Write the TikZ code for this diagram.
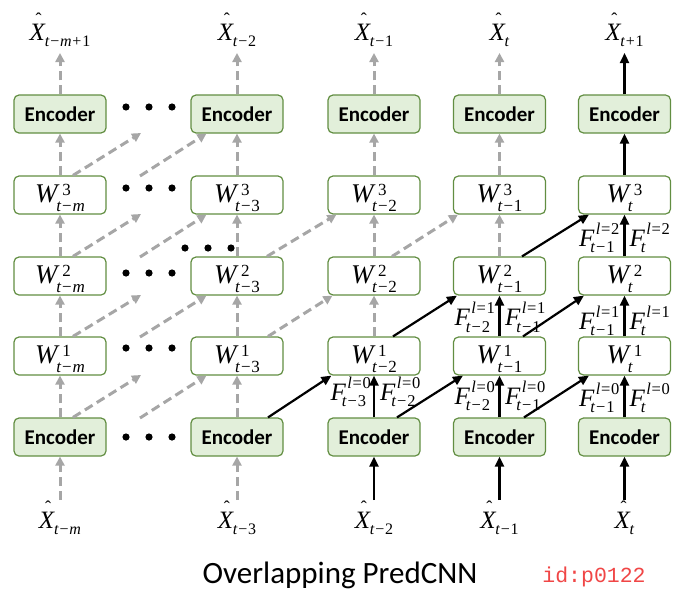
\documentclass[tikz,border=0pt]{standalone}
\usepackage{fontspec}
\setmainfont{Liberation Serif}
\newfontfamily\carl{Carlito}
\newfontfamily\idfont{Liberation Mono}
\usetikzlibrary{arrows.meta,calc}
\definecolor{boxgreen}{RGB}{98,142,66}
\definecolor{encfill}{RGB}{226,239,218}
\definecolor{dgray}{RGB}{166,166,166}
\definecolor{idred}{RGB}{240,70,70}
\newcommand\tv{\textit{t}}
\newcommand\mv{\textit{m}}
\newcommand\mn{\kern0.8pt−\kern0.8pt}
\newcommand\plv{\kern0.8pt+\kern0.8pt}
% #1 size, #2 sup x offset, #3 sup raise, #4 sub lower, #5 sup, #6 sub
\newcommand\scripts[6]{{\fontsize{#1}{#1}\selectfont
  \setbox0=\hbox{\kern#2\relax#5}%
  \setbox2=\hbox{#6}%
  \ifdim\wd0>\wd2 \setbox2=\hbox to\wd0{\unhbox2\hfil}\fi
  \rlap{\raisebox{#3}{\box0}}\raisebox{-#4}{\box2}}}
\newcommand\Wv[2]{\rule{0pt}{24pt}{\fontsize{27}{30}\selectfont\textit{W}}\kern-3.5pt\scripts{17pt}{6pt}{6.5pt}{9pt}{#1}{#2}}
\newcommand\Fv[2]{{\itshape F}\kern-4pt\scripts{16.5pt}{5.5pt}{12pt}{6.5pt}{\textit{l}\kern0.6pt=\kern0.6pt#1}{#2}}
\newcommand\hatX{\setbox4=\hbox{\textit{X}}\rlap{\hbox to\wd4{\hss\kern2pt\raisebox{15pt}{\fontsize{18}{18}\selectfont ˆ}\hss}}\box4}
\newcommand\Xv[1]{\hatX\kern-1pt\scripts{16pt}{0pt}{0pt}{6pt}{}{#1}}
\begin{document}
\begin{tikzpicture}[x=1pt,y=-1pt,
  box/.style={draw=boxgreen, line width=1.2pt, rounded corners=5pt, minimum width=92pt, minimum height=38pt, inner sep=0pt},
  enc/.style={box, fill=encfill, font=\carl\bfseries\fontsize{21}{24}\selectfont},
  wbox/.style={box, fill=white, font=\fontsize{25}{30}\selectfont},
  toplab/.style={font=\fontsize{25}{30}\selectfont, inner sep=1pt, outer ysep=5pt, anchor=south},
  botlab/.style={font=\fontsize{25}{30}\selectfont, inner sep=1pt, anchor=north},
  flab/.style={font=\fontsize{25}{30}\selectfont, inner sep=0pt},
  garr/.style={draw=dgray, line width=3pt, dash pattern=on 9pt off 5pt, -{Triangle[length=9pt,width=9pt]}},
  barr/.style={draw=black, line width=2.2pt, -{Triangle[length=10pt,width=9pt]}},
  dot/.style={fill=black}]
\useasboundingbox (0,0) rectangle (684,602);
% ---- column 1
\node[enc]  (b1) at (60,437) {Encoder};
\node[wbox] (p1) at (60,356) {\Wv{1}{\tv\mn\mv}};
\node[wbox] (q1) at (60,276) {\Wv{2}{\tv\mn\mv}};
\node[wbox] (r1) at (60,195) {\Wv{3}{\tv\mn\mv}};
\node[enc]  (e1) at (60,114) {Encoder};
\node[toplab] (xt1) at (60,53) {\Xv{\tv\mn\mv\plv1}};
\node[botlab] (xb1) at (60,500) {\Xv{\tv\mn\mv}};
% ---- column 2
\node[enc]  (b2) at (237,437) {Encoder};
\node[wbox] (p2) at (237,356) {\Wv{1}{\tv\mn3}};
\node[wbox] (q2) at (237,276) {\Wv{2}{\tv\mn3}};
\node[wbox] (r2) at (237,195) {\Wv{3}{\tv\mn3}};
\node[enc]  (e2) at (237,114) {Encoder};
\node[toplab] (xt2) at (237,53) {\Xv{\tv\mn2}};
\node[botlab] (xb2) at (237,500) {\Xv{\tv\mn3}};
% ---- column 3
\node[enc]  (b3) at (374,437) {Encoder};
\node[wbox] (p3) at (374,356) {\Wv{1}{\tv\mn2}};
\node[wbox] (q3) at (374,276) {\Wv{2}{\tv\mn2}};
\node[wbox] (r3) at (374,195) {\Wv{3}{\tv\mn2}};
\node[enc]  (e3) at (374,114) {Encoder};
\node[toplab] (xt3) at (374,53) {\Xv{\tv\mn1}};
\node[botlab] (xb3) at (374,500) {\Xv{\tv\mn2}};
% ---- column 4
\node[enc]  (b4) at (499.5,437) {Encoder};
\node[wbox] (p4) at (499.5,356) {\Wv{1}{\tv\mn1}};
\node[wbox] (q4) at (499.5,276) {\Wv{2}{\tv\mn1}};
\node[wbox] (r4) at (499.5,195) {\Wv{3}{\tv\mn1}};
\node[enc]  (e4) at (499.5,114) {Encoder};
\node[toplab] (xt4) at (499.5,53) {\Xv{\tv}};
\node[botlab] (xb4) at (499.5,500) {\Xv{\tv\mn1}};
% ---- column 5
\node[enc]  (b5) at (624.5,437) {Encoder};
\node[wbox] (p5) at (624.5,356) {\Wv{1}{\tv}};
\node[wbox] (q5) at (624.5,276) {\Wv{2}{\tv}};
\node[wbox] (r5) at (624.5,195) {\Wv{3}{\tv}};
\node[enc]  (e5) at (624.5,114) {Encoder};
\node[toplab] (xt5) at (624.5,53) {\Xv{\tv\plv1}};
\node[botlab] (xb5) at (624.5,500) {\Xv{\tv}};
% ---- vertical arrows
\foreach \c in {1,2}{
  \draw[garr] (xb\c) -- (b\c);
  \draw[garr] (b\c) -- (p\c);
  \draw[garr] (p\c) -- (q\c);
  \draw[garr] (q\c) -- (r\c);
  \draw[garr] (r\c) -- (e\c);
  \draw[garr] (e\c) -- (xt\c);
}
\draw[barr] (xb3) -- (b3);
\draw[barr] (b3) -- (p3);
\draw[garr] (p3) -- (q3);
\draw[garr] (q3) -- (r3);
\draw[garr] (r3) -- (e3);
\draw[garr] (e3) -- (xt3);
\draw[barr] (xb4) -- (b4);
\draw[barr] (b4) -- (p4);
\draw[barr] (p4) -- (q4);
\draw[garr] (q4) -- (r4);
\draw[garr] (r4) -- (e4);
\draw[garr] (e4) -- (xt4);
\draw[barr] (xb5) -- (b5);
\draw[barr] (b5) -- (p5);
\draw[barr] (p5) -- (q5);
\draw[barr] (q5) -- (r5);
\draw[barr] (r5) -- (e5);
\draw[barr] (e5) -- (xt5);
% ---- gap coordinates (ellipsis between columns 1 and 2)
\coordinate (ga1) at (141,375);
\coordinate (ga2) at (141,295);
\coordinate (ga3) at (141,214);
\coordinate (ga4) at (141,133);
\coordinate (gb0) at (140,418);
\coordinate (gb1) at (140,337);
\coordinate (gb2) at (140,257);
\coordinate (gb3) at (140,176);
% ---- diagonal arrows
\draw[garr] ($(b1.north)+(13,0)$) -- (ga1);
\draw[garr] ($(p1.north)+(13,0)$) -- (ga2);
\draw[garr] ($(q1.north)+(13,0)$) -- (ga3);
\draw[garr] ($(r1.north)+(13,0)$) -- (ga4);
\draw[garr] (gb0) -- ($(p2.south west)+(16,0)$);
\draw[garr] (gb1) -- ($(q2.south west)+(16,0)$);
\draw[garr] (gb2) -- ($(r2.south west)+(16,0)$);
\draw[garr] (gb3) -- ($(e2.south west)+(16,0)$);
\draw[garr] ($(p2.north)+(31,0)$) -- ($(q3.south west)+(5,0)$);
\draw[garr] ($(q2.north)+(30,0)$) -- ($(r3.south west)+(9,0)$);
\draw[garr] ($(q3.north)+(18,0)$) -- ($(r4.south west)+(5,0)$);
\draw[barr] ($(b2.north)+(31,0)$) -- ($(p3.south west)+(4,0)$);
\draw[barr] ($(b3.north)+(23,0)$) -- ($(p4.south west)+(10,0)$);
\draw[barr] ($(p3.north)+(19,0)$) -- ($(q4.south west)+(4,0)$);
\draw[barr] ($(b4.north)+(24.5,0)$) -- ($(p5.south west)+(11,0)$);
\draw[barr] ($(p4.north)+(23.5,0)$) -- ($(q5.south west)+(6,0)$);
\draw[barr] ($(q4.north)+(22.5,0)$) -- ($(r5.south west)+(11,0)$);
% ---- F labels
\node[flab,anchor=east] (f3a) at (371,392) {\Fv{0}{\tv\mn3}};
\node[flab,anchor=west] (f3b) at (380,392) {\Fv{0}{\tv\mn2}};
\node[flab,anchor=east] (f4a) at (495,396) {\Fv{0}{\tv\mn2}};
\node[flab,anchor=west] (f4b) at (505,396) {\Fv{0}{\tv\mn1}};
\node[flab,anchor=east] (f4c) at (495,317.5) {\Fv{1}{\tv\mn2}};
\node[flab,anchor=west] (f4d) at (505,317.5) {\Fv{1}{\tv\mn1}};
\node[flab,anchor=east] (f5a) at (619.5,398) {\Fv{0}{\tv\mn1}};
\node[flab,anchor=west] (f5b) at (629.5,398) {\Fv{0}{\tv}};
\node[flab,anchor=east] (f5c) at (619.5,321) {\Fv{1}{\tv\mn1}};
\node[flab,anchor=west] (f5d) at (629.5,321) {\Fv{1}{\tv}};
\node[flab,anchor=east] (f5e) at (619.5,238) {\Fv{2}{\tv\mn1}};
\node[flab,anchor=west] (f5f) at (629.5,238) {\Fv{2}{\tv}};
% ---- ellipsis dots
\foreach \yy in {107,188,273,348,437}{
  \foreach \xx in {126,149,172}{
    \fill[dot] (\xx,\yy) circle (3.6pt);
  }
}
\foreach \xx in {185,208,231}{
  \fill[dot] (\xx,248) circle (3.6pt);
}
% ---- title and id
\node[font=\carl\fontsize{31}{36}\selectfont, inner sep=0pt] (title) at (340,575) {Overlapping PredCNN};
\node[font=\idfont\fontsize{21.5}{26}\selectfont, text=idred, inner sep=0pt] (idlab) at (594,577) {id:p0122};
\end{tikzpicture}
\end{document}
